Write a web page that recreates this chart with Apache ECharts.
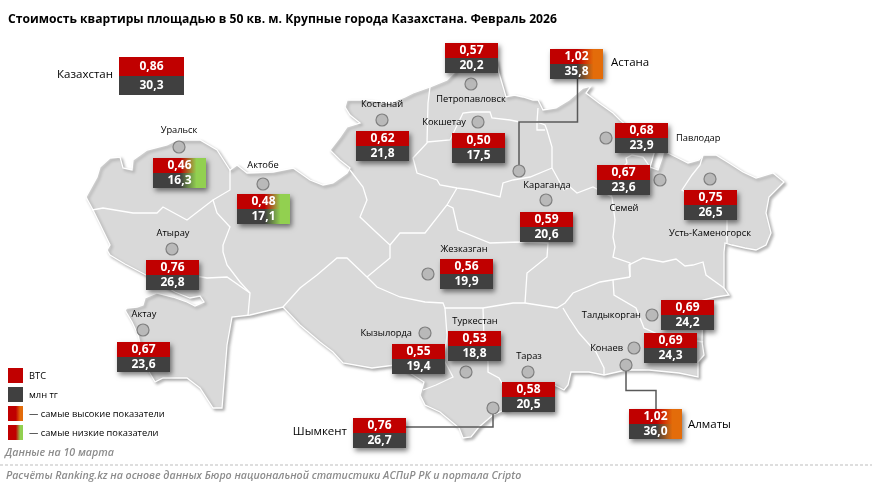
<!DOCTYPE html>
<html><head><meta charset="utf-8">
<style>html,body{margin:0;padding:0;background:#fff}#c{width:872px;height:490px}</style>
<script src="https://cdn.jsdelivr.net/npm/echarts@6/dist/echarts.min.js"></script>
</head><body><div id="c"></div>
<script>
// Data
const cities = ['Казахстан','Петропавловск','Астана','Уральск','Актобе','Костанай','Кокшетау','Павлодар','Семей','Усть-Каменогорск','Караганда','Атырау','Актау','Жезказган','Кызылорда','Туркестан','Талдыкорган','Конаев','Тараз','Шымкент','Алматы'];
const btcValues = ['0,86','0,57','1,02','0,46','0,48','0,62','0,50','0,68','0,67','0,75','0,59','0,76','0,67','0,56','0,55','0,53','0,69','0,69','0,58','0,76','1,02'];
const mlnValues = ['30,3','20,2','35,8','16,3','17,1','21,8','17,5','23,9','23,6','26,5','20,6','26,8','23,6','19,9','19,4','18,8','24,2','24,3','20,5','26,7','36,0'];
const highlight = ['','','high','low','low','','','','','','','','','','','','','','','','high'];
// City positions on the map
const cityPoints = [null,[471,84],[519,171],[179,147],[263,184],[382,120],[478,122],[606,138],[660,180],[710,179],[546,200],[172,249],[143,330],[428,274],[425,333],[466,372],[652,315],[634,348],[528,372],[493,408],[626,365]];
// Tile top-left corners on the map
const tileCorners = [[119,57],[445,43],[550,49],[153,158],[237,194],[356,131],[452,133],[615,123],[597,165],[684,190],[520,212],[146,260],[117,342],[440,259],[392,344],[448,331],[661,300],[644,333],[502,382],[353,418],[629,409]];
// City label anchors: x, y, align, font size
const labelAnchors = [[113,75,'right',11.5],[471,99,'center',9.3],[611,63,'left',11.5],[179,130,'center',9.3],[263,165,'center',9.3],[382,104,'center',9.3],[466,122,'right',9.3],[676,138,'left',9.3],[624,208,'center',9.3],[710,233,'center',9.3],[547,185,'center',9.3],[173,233,'center',9.3],[144,314,'center',9.3],[464,249,'center',9.3],[412,333,'right',9.3],[475,321,'center',9.3],[641,315,'right',9.3],[623,348,'right',9.3],[529,356,'center',9.3],[347,432,'right',11.5],[688,425,'left',11.5]];
const leaders = [
  [[577.5,79],[577.5,122],[519,122],[519,165]],
  [[626,371],[626,390.5],[656,390.5],[656,409]],
  [[406,427],[493,427],[493,414]]
];
const outline = [[86,197],[97,177],[100,167],[110,158],[120,157],[123,168],[132,170],[133,160],[147,150],[167,145],[177,140],[200,140],[217,150],[230,170],[237,165],[247,173],[273,172],[293,168],[310,180],[323,185],[333,183],[347,173],[350,168],[340,160],[330,150],[340,137],[347,127],[360,123],[350,115],[345,107],[347,100],[367,100],[390,103],[405,97],[413,93],[430,87],[447,80],[455,72],[455,60],[496,60],[499,73],[504,90],[506,97],[514,95],[523,97],[533,100],[538,100],[543,110],[556,108],[569,100],[583,88],[591,86],[586,93],[599,103],[613,113],[620,120],[655,150],[650,167],[658,170],[662,158],[664,150],[668,153],[676,157],[688,163],[699,160],[703,155],[716,155],[729,163],[743,172],[756,178],[773,173],[784,182],[769,197],[766,213],[771,233],[766,245],[756,250],[745,248],[732,245],[725,243],[724,252],[724,288],[729,295],[716,297],[703,300],[702,342],[704,355],[698,362],[698,377],[679,373],[649,370],[626,370],[604,375],[589,372],[571,372],[568,385],[564,390],[554,385],[545,392],[493,415],[479,427],[471,437],[463,438],[459,428],[440,412],[425,405],[420,395],[424,382],[413,375],[395,365],[372,368],[343,363],[333,352],[320,342],[300,325],[283,307],[250,315],[232,317],[227,345],[222,408],[213,408],[200,388],[187,378],[163,378],[155,382],[145,365],[138,335],[132,322],[125,310],[127,308],[137,307],[143,305],[145,298],[157,293],[173,297],[187,302],[195,306],[204,302],[200,296],[190,298],[175,292],[146,275],[125,264],[110,255],[107,250],[110,245],[93,210],[86,197]];
const borders = [
  [[92,210],[103,208],[133,213],[157,213],[163,207],[187,220],[213,200]],
  [[230,170],[230,190],[213,200],[217,213],[230,227],[223,245],[223,252],[227,265],[240,282],[250,293],[248,315]],
  [[250,293],[227,277],[207,278],[190,275]],
  [[350,170],[363,187],[367,200],[360,217],[377,233],[390,245],[390,258],[367,277]],
  [[367,277],[347,258],[337,258],[317,275],[300,288],[283,307]],
  [[367,277],[377,287],[400,297],[425,302],[443,303],[445,308],[483,308],[513,303],[525,303],[557,308],[565,303],[573,293],[600,282],[630,277]],
  [[445,308],[447,335],[444,360],[453,377],[436,385],[423,390]],
  [[483,308],[484,340],[488,362],[488,372],[499,378],[502,383]],
  [[563,308],[569,318],[579,333],[596,352],[604,368],[604,375]],
  [[613,280],[614,295],[636,308],[644,328],[660,335],[703,342]],
  [[630,277],[629,265],[643,258],[663,262],[676,259],[685,266],[693,265],[703,262],[706,275],[724,288]],
  [[612,197],[615,220],[613,237],[615,247],[613,257],[630,263],[630,277]],
  [[552,168],[564,190],[570,187],[577,193],[593,187],[612,197]],
  [[612,197],[605,185],[627,163],[626,158],[632,155],[643,157],[650,167]],
  [[703,155],[700,165],[692,175],[682,190],[700,200],[727,215],[727,243]],
  [[552,168],[530,177],[513,180],[503,183],[500,197],[472,190],[457,188],[440,185],[437,180],[417,173],[413,158],[427,143],[428,103],[430,87]],
  [[457,188],[447,205],[425,233],[400,233],[390,245]],
  [[447,205],[453,208],[458,230],[490,243],[520,242],[548,243],[547,257],[527,273],[525,303]],
  [[427,142],[450,140],[463,113],[472,112],[490,112],[492,118],[510,120],[520,122],[537,122],[545,125],[547,130],[552,147],[552,168]],
  [[538,108],[537,122]],
  [[537,122],[537,130],[545,130]]
];
const legendItems = ['ВТС','млн тг','— самые высокие показатели','— самые низкие показатели'];
const titleText = 'Стоимость квартиры площадью в 50 кв. м. Крупные города Казахстана. Февраль 2026';
const noteText = 'Данные на 10 марта';
const sourceText = 'Расчёты Ranking.kz на основе данных Бюро национальной статистики АСПиР РК и портала Cripto';

const FONT = '"Open Sans", sans-serif';
const RED='#c00000', DARK='#404040', ORANGE='#e36c0a', GREEN='#92d050';
function fill(base, kind){
  if(!kind) return base;
  const end = kind==='high'?ORANGE:GREEN;
  return new echarts.graphic.LinearGradient(0,0,1,0,[
    {offset:0,color:base},{offset:0.52,color:base},{offset:0.82,color:end},{offset:1,color:end}]);
}
echarts.registerMap('kz',{type:'FeatureCollection',features:[{type:'Feature',properties:{name:'Казахстан'},geometry:{type:'Polygon',coordinates:[outline]}}]});

const chart = echarts.init(document.getElementById('c'),null,{renderer:'canvas'});
const tileData = cities.map((n,i)=>({value:[tileCorners[i][0],tileCorners[i][1],btcValues[i],mlnValues[i],i]}));
const labelData = cities.map((n,i)=>({value:[labelAnchors[i][0],labelAnchors[i][1],i]}));
const pointData = cities.map((n,i)=>cityPoints[i]?{name:n,value:cityPoints[i]}:null).filter(Boolean);

chart.setOption({
  animation:false,
  backgroundColor:'#fff',
  tooltip:{show:false},
  title:{text:titleText,left:8,top:14,padding:0,textStyle:{fontFamily:FONT,fontSize:12.15,fontWeight:'bold',color:'#000'}},
  geo:{map:'kz',silent:true,roam:false,left:0,top:0,width:872,height:490,
    boundingCoords:[[0,0],[872,490]],
    projection:{project:p=>p,unproject:p=>p},
    label:{show:false},
    itemStyle:{areaColor:'#d9d9d9',borderColor:'#ffffff',borderWidth:1.3,shadowColor:'rgba(0,0,0,0.28)',shadowBlur:3,shadowOffsetX:2,shadowOffsetY:2},
    emphasis:{disabled:true}},
  graphic:[
    ...legendItems.map((t,i)=>{
      const kind=i===2?'high':i===3?'low':'';
      return {type:'rect',left:8,top:368+i*19,shape:{width:15,height:15},z:20,silent:true,
        style:{fill:i===1?DARK:fill(RED,kind)}};
    }),
    ...legendItems.map((t,i)=>({type:'text',left:29,top:371.5+i*19,z:20,silent:true,
      style:{text:t,fontFamily:FONT,fontSize:9.3,fill:'#000'}})),
    {type:'text',left:5,top:447.5,silent:true,style:{text:noteText,fontFamily:FONT,fontSize:10.7,fontStyle:'italic',fontWeight:600,fill:'#8c8c8c'}},
    {type:'line',silent:true,shape:{x1:0,y1:465,x2:872,y2:465},style:{stroke:'#bdbdbd',lineWidth:1,lineDash:[3,2]}},
    {type:'text',left:6,top:470,silent:true,style:{text:sourceText,fontFamily:FONT,fontSize:10.6,fontStyle:'italic',fontWeight:600,fill:'#8c8c8c'}}
  ],
  series:[
    {type:'lines',coordinateSystem:'geo',polyline:true,silent:true,z:2,
      data:borders.map(c=>({coords:c})),
      lineStyle:{color:'#ffffff',width:1.3,opacity:1}},
    {type:'lines',coordinateSystem:'geo',polyline:true,silent:true,z:3,
      data:leaders.map(c=>({coords:c})),
      lineStyle:{color:'#595959',width:1.5,opacity:1}},
    {type:'scatter',coordinateSystem:'geo',silent:true,z:4,symbol:'circle',symbolSize:12,
      data:pointData,
      itemStyle:{color:'#b9b9b9',borderColor:'#7f7f7f',borderWidth:1.2,opacity:1}},
    {type:'custom',coordinateSystem:'geo',silent:true,z:5,data:labelData,
      renderItem:(p,api)=>{
        const pt=api.coord([api.value(0),api.value(1)]);
        const i=api.value(2);
        return {type:'text',x:pt[0],y:pt[1],style:{text:cities[i],align:labelAnchors[i][2],verticalAlign:'middle',
          fontFamily:FONT,fontSize:labelAnchors[i][3],fill:'#000'}};
      }},
    {type:'custom',coordinateSystem:'geo',silent:true,z:6,data:tileData,
      renderItem:(p,api)=>{
        const i=api.value(4);
        const pt=api.coord([api.value(0),api.value(1)]);
        const big=i===0, w=big?65:53, h=big?19:15, fs=12;
        const kind=highlight[i];
        const shadow=big?[]:[{type:'rect',shape:{x:0,y:0,width:w,height:h*2},
          style:{fill:DARK,shadowColor:'rgba(0,0,0,0.5)',shadowBlur:5,shadowOffsetX:2,shadowOffsetY:3}}];
        const cx=w/2;
        return {type:'group',x:pt[0],y:pt[1],children:[...shadow,
          {type:'rect',shape:{x:0,y:0,width:w,height:h},style:{fill:fill(RED,kind)}},
          {type:'rect',shape:{x:0,y:h,width:w,height:h},style:{fill:fill(DARK,kind)}},
          {type:'text',x:cx,y:h/2,style:{text:String(btcValues[i]),align:'center',verticalAlign:'middle',fontFamily:FONT,fontSize:fs,fontWeight:'bold',fill:'#fff'}},
          {type:'text',x:cx,y:h*1.5,style:{text:String(mlnValues[i]),align:'center',verticalAlign:'middle',fontFamily:FONT,fontSize:fs,fontWeight:'bold',fill:'#fff'}}
        ]};
      }}
  ]
});
</script></body></html>
